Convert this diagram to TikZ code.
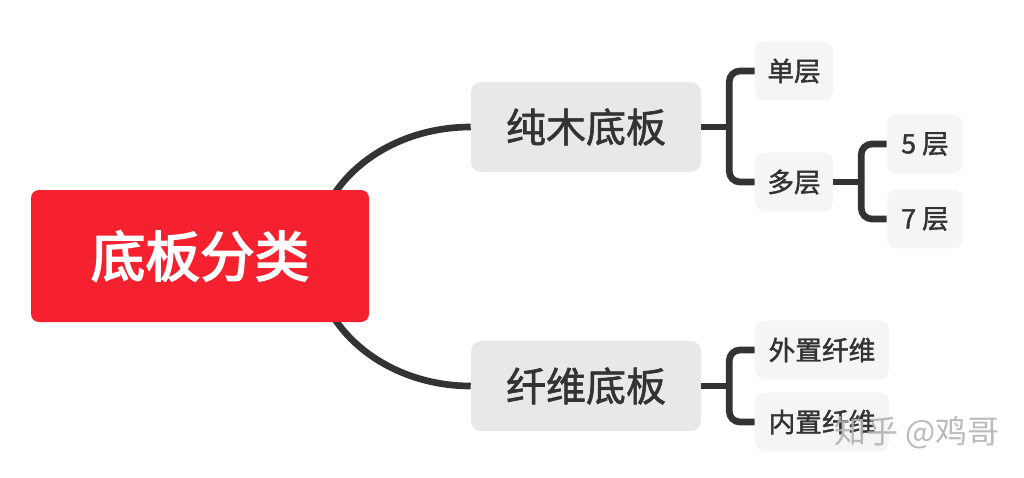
\documentclass[tikz,border=0pt]{standalone}
\usepackage{fontspec}
\setmainfont{Noto Sans CJK SC}
\newfontfamily\heavycjk[FakeBold=3]{Noto Sans CJK SC}
\newfontfamily\midcjk[FakeBold=1.5]{Noto Sans CJK SC}
\usetikzlibrary{positioning, calc, backgrounds}
\definecolor{rootred}{HTML}{F5212F}
\definecolor{ink}{HTML}{333333}

\begin{document}
\begin{tikzpicture}[x=0.75pt,y=-0.75pt,
  root/.style={rectangle,fill=rootred,rounded corners=6pt,inner sep=0pt, minimum width=253.5pt,minimum height=99pt,text=white,font=\heavycjk\fontsize{41}{41}\selectfont},
  topic/.style={rectangle,fill=black!9,rounded corners=7.5pt,inner sep=0pt, minimum width=172.5pt,minimum height=67.5pt,text=ink,font=\midcjk\fontsize{30}{30}\selectfont},
  sub/.style={rectangle,fill=black!4,rounded corners=7pt,inner sep=0pt, minimum height=44pt,text=ink,font=\midcjk\fontsize{20}{20}\selectfont},
  conn/.style={draw=ink,line width=5pt},
  brk/.style={draw=ink,line width=5pt,rounded corners=8pt}
]
  \useasboundingbox (0,0) rectangle (1024,478);
  \node[root] (root) at (200,256) {底板分类};
  \node[topic](b1) at (586,127) {纯木底板};
  \node[topic](b2) at (586,386) {纤维底板};
  \node[sub,minimum width=58.5pt](s1) at (794,71)  {单层};
  \node[sub,minimum width=58.5pt](s2) at (794,182) {多层};
  \node[sub,minimum width=57pt]  (l5) at (925,144) {5 层};
  \node[sub,minimum width=57pt]  (l7) at (925,219) {7 层};
  \node[sub,minimum width=100.5pt](f1) at (822,350) {外置纤维};
  \node[sub,minimum width=100.5pt](f2) at (822,422) {内置纤维};
  \node[text=black!30,opacity=0.9,font=\fontsize{24}{24}\selectfont](wm) at (917,433) {知乎 @鸡哥};
  \begin{scope}[on background layer]
    \draw[conn]($(root.center)+(115,0)$) .. controls +(0,-71) and +(-86,0) .. (b1.west);
    \draw[conn]($(root.center)+(115,0)$) .. controls +(0,71) and +(-86,0) .. (b2.west);
  \end{scope}
  \draw[conn](b1.east) -- ++(28,0);
  \draw[brk]($(b1.east)+(28,0)$) |- (s1.west);
  \draw[brk]($(b1.east)+(28,0)$) |- (s2.west);
  \draw[conn](s2.east) -- ++(28,0);
  \draw[brk]($(s2.east)+(28,0)$) |- (l5.west);
  \draw[brk]($(s2.east)+(28,0)$) |- (l7.west);
  \draw[conn](b2.east) -- ++(28,0);
  \draw[brk]($(b2.east)+(28,0)$) |- (f1.west);
  \draw[brk]($(b2.east)+(28,0)$) |- (f2.west);
\end{tikzpicture}
\end{document}
